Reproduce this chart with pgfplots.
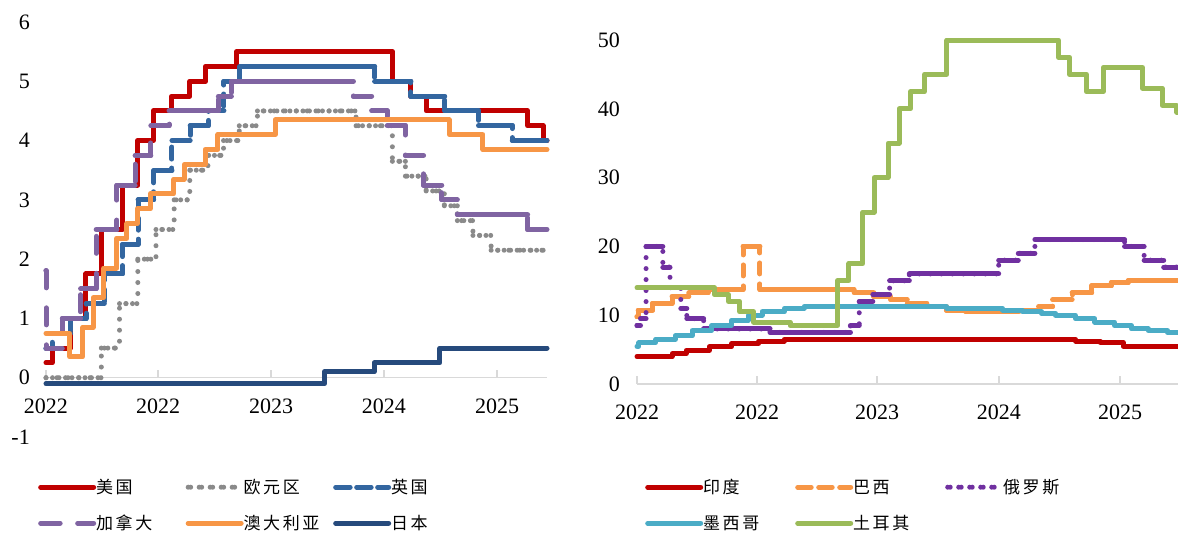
\documentclass[border=0pt]{standalone}
\usepackage{fontspec}
\setmainfont{Liberation Serif}
\newfontfamily\cjk{Noto Sans CJK SC}[LetterSpace=15]
\usepackage{pgfplots}
\usepackage{pgfplotstable}
\pgfplotsset{compat=1.18}
\definecolor{axisgray}{HTML}{D9D9D9}
\definecolor{cred}{HTML}{C00000}
\definecolor{cgray}{HTML}{8A8A8A}
\definecolor{cblue}{HTML}{3366A0}
\definecolor{cviolet}{HTML}{8064A2}
\definecolor{corange}{HTML}{F79646}
\definecolor{cnavy}{HTML}{264A7C}
\definecolor{cpurple}{HTML}{7030A0}
\definecolor{cteal}{HTML}{4BACC6}
\definecolor{cgreen}{HTML}{9BBB59}

% ---------- left panel ----------
\pgfplotstableread{
x y
2022.159 0.25
2022.205 0.5
2022.337 1.0
2022.452 1.75
2022.567 2.5
2022.721 3.25
2022.836 4.0
2022.951 4.5
2023.085 4.75
2023.219 5.0
2023.334 5.25
2023.564 5.5
2024.713 5.0
2024.850 4.75
2024.962 4.5
2025.710 4.25
2025.825 4.0
2025.853 4.0
}\tus
\pgfplotstableread{
x y
2022.159 0
2022.567 0.5
2022.701 1.25
2022.836 2.0
2022.970 2.5
2023.104 3.0
2023.219 3.5
2023.353 3.75
2023.468 4.0
2023.584 4.25
2023.718 4.5
2024.445 4.25
2024.713 3.65
2024.809 3.4
2024.962 3.15
2025.096 2.9
2025.192 2.65
2025.307 2.4
2025.441 2.15
2025.853 2.15
}\teuro
\pgfplotstableread{
x y
2022.159 0.5
2022.205 0.75
2022.340 1.0
2022.455 1.25
2022.589 1.75
2022.723 2.25
2022.838 3.0
2022.953 3.5
2023.088 4.0
2023.222 4.25
2023.356 4.5
2023.471 5.0
2023.586 5.25
2024.582 5.0
2024.850 4.75
2025.099 4.5
2025.348 4.25
2025.597 4.0
2025.853 4.0
}\tuk
\pgfplotstableread{
x y
2022.159 1.8
2022.160 0.5
2022.279 1.0
2022.414 1.5
2022.529 2.5
2022.682 3.25
2022.816 3.75
2022.932 4.25
2023.066 4.5
2023.430 4.75
2023.526 5.0
2024.426 4.75
2024.560 4.5
2024.675 4.25
2024.809 3.75
2024.943 3.25
2025.077 3.0
2025.192 2.75
2025.710 2.5
2025.853 2.5
}\tca
\pgfplotstableread{
x y
2022.159 0.75
2022.334 0.35
2022.430 0.85
2022.507 1.35
2022.584 1.85
2022.679 2.35
2022.756 2.6
2022.833 2.85
2022.929 3.1
2023.101 3.35
2023.178 3.6
2023.332 3.85
2023.427 4.1
2023.849 4.35
2025.132 4.1
2025.381 3.85
2025.853 3.85
}\tau
\pgfplotstableread{
x y
2022.159 -0.1
2024.213 0.1
2024.579 0.25
2025.063 0.5
2025.853 0.5
}\tjp

% ---------- right panel ----------
\pgfplotstableread{
x y
2022.097 4.0
2022.337 4.4
2022.433 4.9
2022.592 5.4
2022.745 5.9
2022.932 6.25
2023.104 6.5
2025.101 6.25
2025.268 6.0
2025.427 5.5
2025.802 5.5
}\tin
\pgfplotstableread{
x y
2022.097 9.75
2022.105 10.75
2022.203 11.75
2022.337 12.75
2022.452 13.25
2022.586 13.75
2022.823 20
2022.939 13.75
2023.584 13.25
2023.718 12.75
2023.833 12.25
2023.948 11.75
2024.082 11.25
2024.216 10.75
2024.350 10.5
2024.713 10.75
2024.847 11.25
2024.943 12.25
2025.077 13.25
2025.211 14.25
2025.345 14.75
2025.460 15.0
2025.802 15.0
}\tbr
\pgfplotstableread{
x y
2022.097 8.5
2022.121 9.5
2022.159 20
2022.274 17
2022.323 14
2022.397 11
2022.438 9.5
2022.553 8
2023.008 7.5
2023.559 8.5
2023.619 12
2023.712 13
2023.827 15
2023.962 16
2024.574 18
2024.708 19
2024.822 21
2025.436 20
2025.570 18
2025.704 17
2025.802 17
}\tru
\pgfplotstableread{
x y
2022.097 5.5
2022.110 6.0
2022.225 6.5
2022.359 7.0
2022.474 7.75
2022.608 8.5
2022.742 9.25
2022.858 10.0
2022.953 10.5
2023.107 11.0
2023.241 11.25
2024.219 11.0
2024.601 10.75
2024.735 10.5
2024.869 10.25
2024.964 10.0
2025.099 9.5
2025.233 9.0
2025.367 8.5
2025.482 8.0
2025.597 7.75
2025.732 7.5
2025.802 7.5
}\tmx
\pgfplotstableread{
x y
2022.097 14
2022.627 13
2022.723 12
2022.800 10.5
2022.896 9
2023.145 8.5
2023.471 15
2023.548 17.5
2023.644 25
2023.721 30
2023.816 35
2023.893 40
2023.970 42.5
2024.066 45
2024.219 50
2024.984 47.5
2025.060 45
2025.175 42.5
2025.290 46
2025.559 43
2025.693 40.5
2025.795 39.5
2025.802 39.5
}\ttr

\pgfplotsset{
  rateaxis/.style={
    scale only axis, clip=false,
    axis x line*=middle, axis y line*=left,
    y axis line style={draw=none},
    x axis line style={draw=axisgray, line width=1.3bp},
    xtick style={draw=axisgray, line width=1.3bp},
    major tick length=8bp,
    xtick align=inside,
    ytick style={draw=none},
    hide obscured x ticks=false, hide obscured y ticks=false,
    tick label style={font=\fontsize{22bp}{22bp}\selectfont},
    /pgf/number format/assume math mode=true,
    yticklabel style={anchor=east, inner sep=0pt, xshift=-16bp},
    xticklabel style={anchor=north, inner sep=0pt, yshift=-21bp},
    legend columns=3, legend cell align=left,
    legend style={draw=none, fill=none, inner sep=0pt, column sep=0pt, row sep=0pt,
      anchor=north west, font=\cjk\fontsize{17bp}{20bp}\selectfont,
      nodes={inner sep=0pt, minimum height=36bp}},
    legend image code/.code={\draw[##1, line cap=round] (2.5bp,0bp) -- (49.5bp,0bp); \path (0bp,0bp) -- (53bp,0bp);},
  },
  ser/.style={line width=5bp, line join=round, line cap=round},
}

\begin{document}
\begin{tikzpicture}
\useasboundingbox (0,0) rectangle (1178bp,536bp);
% left panel
\begin{axis}[rateaxis,
  at={(46bp,99bp)}, anchor=south west, width=501bp, height=415bp,
  xmin=2022.159, xmax=2025.853, ymin=-1, ymax=6,
  ytick={-1,0,1,2,3,4,5,6},
  xtick={2022.159,2022.985,2023.818,2024.651,2025.485},
  xticklabels={2022,2022,2023,2024,2025},
  legend style={at={(axis description cs:-0.016,-0.0771)}},
]
\addplot[ser, cred, const plot mark left] table {\tus};
\addlegendentry{\makebox[89.5bp][l]{美国}}
\addplot[ser, cgray, jump mark left, dash pattern=on 0bp off 6.5bp, forget plot] table {\teuro};
\addplot[ser, cgray, const plot mark left, dash pattern=on 0bp off 11bp] table {\teuro};
\addlegendentry{\makebox[89.5bp][l]{欧元区}}
\addplot[ser, cblue, jump mark left, forget plot] table {\tuk};
\addplot[ser, cblue, const plot mark left, dash pattern=on 12bp off 9bp] table {\tuk};
\addlegendentry{\makebox[89.5bp][l]{英国}}
\addplot[ser, cviolet, jump mark left, forget plot] table {\tca};
\addplot[ser, cviolet, const plot mark left, dash pattern=on 17bp off 20bp] table {\tca};
\addlegendentry{\makebox[89.5bp][l]{加拿大}}
\addplot[ser, corange, const plot mark left] table {\tau};
\addlegendentry{\makebox[89.5bp][l]{澳大利亚}}
\addplot[ser, cnavy, const plot mark left] table {\tjp};
\addlegendentry{\makebox[89.5bp][l]{日本}}
\end{axis}
% right panel
\begin{axis}[rateaxis,
  at={(637bp,152bp)}, anchor=south west, width=541bp, height=344bp,
  xmin=2022.097, xmax=2025.802, ymin=0, ymax=50,
  ytick={0,10,20,30,40,50},
  xtick={2022.097,2022.919,2023.741,2024.576,2025.405},
  xticklabels={2022,2022,2023,2024,2025},
  yticklabel style={xshift=-1bp},
  legend style={at={(axis description cs:0.0148,-0.2471)}},
]
\addplot[ser, cred, const plot mark left] table {\tin};
\addlegendentry{\makebox[92bp][l]{印度}}
\addplot[ser, corange, jump mark left, forget plot] table {\tbr};
\addplot[ser, corange, const plot mark left, dash pattern=on 11bp off 10bp] table {\tbr};
\addlegendentry{\makebox[92bp][l]{巴西}}
\addplot[ser, cpurple, jump mark left, forget plot] table {\tru};
\addplot[ser, cpurple, const plot mark left, dash pattern=on 0bp off 11bp] table {\tru};
\addlegendentry{\makebox[92bp][l]{俄罗斯}}
\addplot[ser, cteal, const plot mark left] table {\tmx};
\addlegendentry{\makebox[92bp][l]{墨西哥}}
\addplot[ser, cgreen, const plot mark left] table {\ttr};
\addlegendentry{\makebox[92bp][l]{土耳其}}
\end{axis}
\end{tikzpicture}
\end{document}
